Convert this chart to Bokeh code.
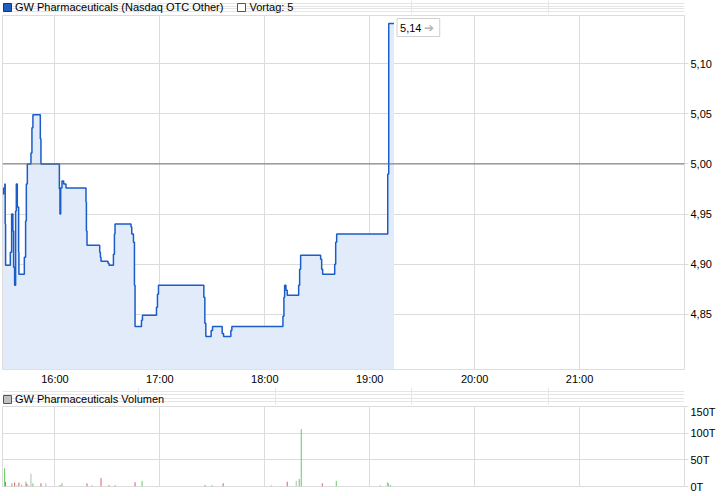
from bokeh.plotting import figure
from bokeh.layouts import column
from bokeh.models import (ColumnDataSource, Span, Label, Legend, LegendItem,
                          FixedTicker, CustomJSTickFormatter, Grid, Range1d)
from bokeh.embed import file_html
from bokeh.resources import INLINE

FONT = "Liberation Sans"

# trades (time of day, price)
tick_times = [
    "15:30:14", "15:30:38", "15:31:22", "15:31:33", "15:31:46", "15:34:28",
    "15:35:13", "15:35:57", "15:36:21", "15:36:56", "15:37:30", "15:37:54",
    "15:38:28", "15:39:13", "15:39:23", "15:42:29", "15:43:13", "15:43:38",
    "15:44:12", "15:46:16", "15:46:50", "15:47:24", "15:51:38", "15:51:59",
    "16:02:31", "16:02:52", "16:03:16", "16:04:01", "16:04:59", "16:06:18",
    "16:17:45", "16:17:59", "16:18:19", "16:25:35", "16:25:59", "16:26:20",
    "16:30:20", "16:30:55", "16:33:26", "16:34:00", "16:34:21", "16:43:31",
    "16:43:55", "16:44:53", "16:45:27", "16:45:48", "16:49:28", "16:50:02",
    "16:58:03", "16:58:37", "16:59:12", "17:25:08", "17:25:42", "17:26:16",
    "17:29:19", "17:30:07", "17:35:37", "17:36:25", "17:40:35", "17:41:10",
    "18:10:22", "18:10:56", "18:11:20", "18:12:05", "18:12:49", "18:19:21",
    "18:19:55", "18:20:29", "18:31:56", "18:32:31", "18:33:05", "18:39:58",
    "18:40:32", "18:41:06", "19:10:18", "19:10:52", "19:13:54",
]
tick_prices = [
    4.970, 4.976, 4.980, 4.940, 4.899, 4.912,
    4.950, 4.933, 4.897, 4.879, 4.953, 4.980,
    4.957, 4.912, 4.890, 4.907, 4.943, 4.980,
    5.000, 5.011, 5.036, 5.049, 5.025, 5.000,
    4.975, 4.950, 4.976, 4.983, 4.980, 4.976,
    4.962, 4.933, 4.919, 4.912, 4.907, 4.903,
    4.901, 4.899, 4.910, 4.930, 4.940, 4.937,
    4.930, 4.922, 4.879, 4.838, 4.844, 4.849,
    4.857, 4.870, 4.879, 4.867, 4.841, 4.828,
    4.834, 4.838, 4.831, 4.828, 4.834, 4.838,
    4.848, 4.867, 4.879, 4.874, 4.869, 4.879,
    4.895, 4.909, 4.905, 4.895, 4.890, 4.900,
    4.922, 4.930, 4.990, 5.140, 5.140,
]
last_price = 5.14
prev_close = 5.00

# volume per trade in thousands; + up, - down, = unchanged
vol_times = [
    "15:31:12", "15:31:46", "15:35:23", "15:36:56", "15:38:15", "15:39:23",
    "15:40:56", "15:43:24", "15:43:58", "15:45:07", "15:46:16", "15:47:24",
    "15:51:59", "15:54:51", "16:02:52", "16:04:01", "16:18:19", "16:21:11",
    "16:26:20", "16:30:55", "16:34:21", "16:45:48", "16:49:49", "17:25:52",
    "17:29:53", "17:36:11", "18:03:40", "18:12:49", "18:17:58", "18:19:41",
    "18:20:50", "18:32:52", "18:40:52", "19:06:04", "19:10:04", "19:10:38",
    "19:11:47",
]
vol_values = [
    34, 9, 6, 7.5, 2, 7.5,
    4, 9, 5, 2, 24, 6,
    6, 6, 2.5, 6, 6, 2.5,
    15.6, 2.5, 2.5, 8, 10.6, 2.5,
    2.5, 6, 2.5, 9, 10.6, 13.8,
    107.5, 6, 10.6, 2.5, 8, 6,
    2.5,
]
vol_dirs = [
    "+", "-", "+", "-", "=", "-",
    "=", "+", "-", "=", "=", "+",
    "-", "=", "-", "+", "-", "=",
    "-", "-", "+", "-", "+", "-",
    "+", "-", "=", "-", "=", "+",
    "+", "-", "+", "=", "=", "+",
    "+",
]

hour_ticks = [16, 17, 18, 19, 20, 21]
price_ticks = [4.85, 4.90, 4.95, 5.00, 5.05, 5.10]
vol_ticks = [0, 50, 100, 150]
y_bottom, y_top = 4.795, 5.148

dir_colors = {"+": "#5ccf5c", "-": "#d9606a", "=": "#b8b8b8"}


def to_hours(s):
    h, m, sec = (int(v) for v in s.split(":"))
    return h + m / 60 + sec / 3600


tt = [to_hours(s) for s in tick_times]
src = ColumnDataSource(dict(t=tt, p=tick_prices,
                            b=[y_bottom] * len(tt)))
vsrc = ColumnDataSource(dict(t=[to_hours(s) for s in vol_times], v=vol_values,
                             z=[0] * len(vol_times),
                             c=[dir_colors[d] for d in vol_dirs]))


def style(fig):
    fig.background_fill_color = "white"
    fig.border_fill_color = "white"
    fig.outline_line_color = "#dcdcdc"
    fig.yaxis.major_tick_out = 4
    fig.yaxis.major_tick_in = 0
    fig.yaxis.major_tick_line_color = "#dcdcdc"
    fig.yaxis.minor_tick_line_color = None
    fig.yaxis.axis_line_color = None
    fig.yaxis.major_label_standoff = 2
    fig.yaxis.major_label_text_font = FONT
    fig.yaxis.major_label_text_font_size = "11px"
    fig.yaxis.major_label_text_color = "black"
    fig.ygrid.grid_line_color = "#dcdcdc"


def legend_strip(height, entries, lift):
    # thin figure that only carries a legend row
    h = figure(width=720, height=height, x_range=Range1d(0, 1),
               y_range=Range1d(0, 1), x_axis_location=None,
               y_axis_location=None, toolbar_location=None,
               output_backend="svg", min_border=0)
    h.outline_line_color = None
    h.background_fill_color = "white"
    h.border_fill_color = "white"
    items = []
    for label, fill, edge in entries:
        r = h.quad(left=[-5], right=[-4], top=[-5], bottom=[-4],
                   fill_color=fill, line_color=edge)
        items.append(LegendItem(label=label, renderers=[r]))
    h.add_layout(Legend(items=items, orientation="horizontal",
                        location=(0, lift), margin=0, padding=0, spacing=13,
                        glyph_width=10, glyph_height=10, label_height=12,
                        label_standoff=3, label_text_font=FONT,
                        label_text_font_size="11px", label_text_color="black",
                        border_line_color=None, background_fill_alpha=0))
    return h


head1 = legend_strip(14, [("GW Pharmaceuticals (Nasdaq OTC Other)",
                           "#1f5fc4", "#0d3a85"),
                          ("Vortag: 5", "white", "#555555")], 1)

# price chart
p = figure(frame_width=682, frame_height=354,
           x_range=Range1d(15.5, 22.0), y_range=Range1d(y_bottom, y_top),
           y_axis_location="right", toolbar_location=None,
           output_backend="svg", min_border_left=2, min_border_right=36,
           min_border_top=1, min_border_bottom=17)
style(p)
p.xaxis.ticker = FixedTicker(ticks=hour_ticks)
p.xaxis.formatter = CustomJSTickFormatter(code="return tick + ':00'")
p.xaxis.major_tick_line_color = None
p.xaxis.minor_tick_line_color = None
p.xaxis.axis_line_color = None
p.xaxis.major_tick_out = 0
p.xaxis.major_label_standoff = 3
p.xaxis.axis_label_standoff = 0
p.xaxis.major_label_text_font = FONT
p.xaxis.major_label_text_font_size = "11px"
p.xaxis.major_label_text_color = "black"
p.yaxis.ticker = FixedTicker(ticks=price_ticks)
p.yaxis.formatter = CustomJSTickFormatter(
    code="return tick.toFixed(2).replace('.', ',')")
p.xgrid.grid_line_color = "#dcdcdc"

p.varea_step(x="t", y1="b", y2="p", step_mode="after", source=src,
             fill_color="#e2ebf9")
p.add_layout(Span(location=prev_close, dimension="width",
                  line_color="#707070", line_width=1))
p.step(x="t", y="p", mode="after", source=src, line_color="#1a5cc8",
       line_width=1.5)

t_last = tt[-1]
p.add_layout(Label(x=t_last, y=last_price, x_offset=3, y_offset=-4,
                   text="5,14\u00a0\u00a0\u00a0\u00a0\u00a0",
                   text_baseline="middle", text_font=FONT,
                   text_font_size="11px", text_color="black",
                   background_fill_color="white",
                   border_line_color="#d0d0d0", padding=3))
p.add_layout(Label(x=t_last, y=last_price, x_offset=30, y_offset=-4,
                   text="\u2794", text_baseline="middle",
                   text_font="DejaVu Sans", text_font_size="12px",
                   text_color="#b4b4b4"))

head2 = legend_strip(18, [("GW Pharmaceuticals Volumen",
                           "#c0c0c0", "#555555")], 0)

# volume chart
p2 = figure(frame_width=682, frame_height=80,
            x_range=p.x_range, y_range=Range1d(0, 150),
            x_axis_location=None, y_axis_location="right",
            toolbar_location=None, output_backend="svg",
            min_border_left=2, min_border_right=36,
            min_border_top=1, min_border_bottom=6)
style(p2)
p2.yaxis.ticker = FixedTicker(ticks=vol_ticks)
p2.yaxis.formatter = CustomJSTickFormatter(code="return tick + 'T'")
p2.add_layout(Grid(dimension=0, ticker=FixedTicker(ticks=hour_ticks),
                   grid_line_color="#dcdcdc"))
p2.segment(x0="t", y0="z", x1="t", y1="v", line_color="c", line_width=1,
           source=vsrc)

layout = column(head1, p, head2, p2)

open("out.html", "w").write(file_html(layout, INLINE))
